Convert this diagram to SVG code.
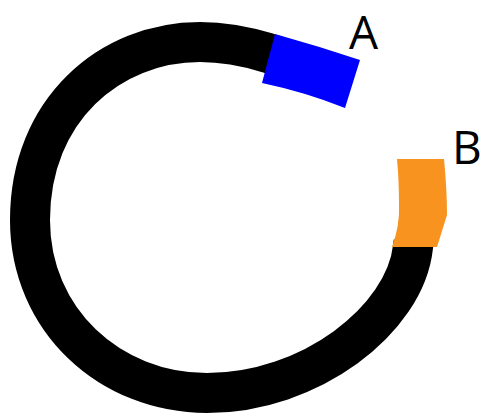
<svg xmlns="http://www.w3.org/2000/svg" width="487" height="416" viewBox="0 0 487 416">
<style>
.lbl{font-family:"Open Sans","Noto Sans",sans-serif;font-size:46px;fill:#000}
</style>
<rect width="487" height="416" fill="#fff"/>
<g id="connectors">
<path id="ring" d="M 277,56 L 268,53 C 245,46 225,42 200,42 C 110,42 30,110 30,220 C 30,320 110,393 207,393 C 310,393 405,320 413,247 L 413.6,242" fill="none" stroke="#000" stroke-width="40"/>
</g>
<g id="A">
<path d="M 275,34 Q 318,46 360,60 L 345,108 Q 305,92 262,83 Z" fill="#0000ff"/>
<text class="lbl" x="349" y="49">A</text>
</g>
<g id="B">
<path d="M 397,159 L 444,159 Q 447,190 447,215 L 437,247 L 392,247 Q 400,225 399,205 Q 399,180 397,159 Z" fill="#f7931e"/>
<text class="lbl" x="452" y="164">B</text>
</g>
</svg>
